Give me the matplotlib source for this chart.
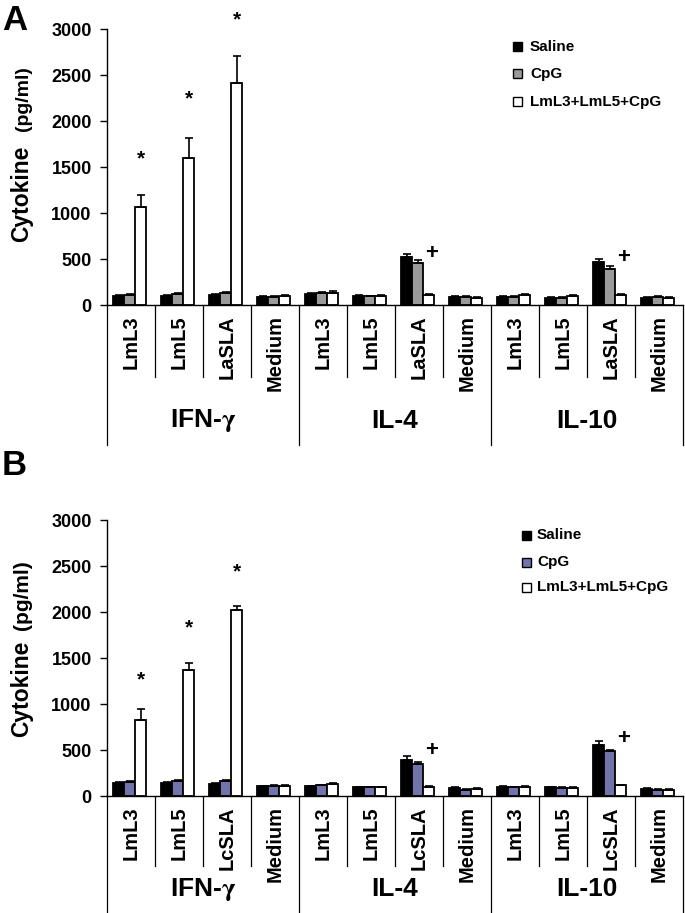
import matplotlib
matplotlib.use("Agg")
import matplotlib.pyplot as plt
from matplotlib.patches import Rectangle
import numpy as np

plt.rcParams['font.family'] = ['Liberation Sans', 'DejaVu Sans']
plt.rcParams['font.weight'] = 'bold'
plt.rcParams['mathtext.fontset'] = 'stix'

groups = ['IFN-$\\mathrm{\\gamma}$', 'IL-4', 'IL-10']
cats_A = ['LmL3', 'LmL5', 'LaSLA', 'Medium']
cats_B = ['LmL3', 'LmL5', 'LcSLA', 'Medium']
series = ['Saline', 'CpG', 'LmL3+LmL5+CpG']

A_saline = [100, 100, 110, 85, 115, 100, 520, 85, 90, 80, 465, 80]
A_cpg = [110, 120, 130, 90, 130, 95, 460, 85, 85, 80, 395, 85]
A_combo = [1065, 1595, 2415, 100, 135, 100, 110, 80, 105, 100, 105, 80]
A_err_saline = [10, 10, 10, 8, 10, 8, 35, 8, 8, 8, 40, 8]
A_err_cpg = [10, 10, 10, 8, 12, 8, 30, 8, 8, 8, 30, 8]
A_err_combo = [130, 220, 295, 8, 15, 8, 10, 8, 10, 10, 10, 8]

B_saline = [140, 145, 135, 105, 105, 95, 395, 85, 100, 95, 550, 75]
B_cpg = [150, 160, 165, 110, 115, 95, 345, 70, 95, 85, 490, 65]
B_combo = [830, 1365, 2020, 110, 130, 95, 100, 80, 100, 90, 115, 65]
B_err_saline = [15, 10, 10, 8, 8, 8, 35, 8, 8, 8, 50, 8]
B_err_cpg = [12, 12, 8, 8, 8, 8, 20, 8, 8, 8, 15, 8]
B_err_combo = [115, 80, 40, 8, 12, 8, 10, 8, 8, 8, 10, 8]

# significance marks: (category index, y value, symbol)
A_marks = [(0, 1590, '*'), (1, 2240, '*'), (2, 3100, '*'), (6, 555, '+'), (10, 515, '+')]
B_marks = [(0, 1260, '*'), (1, 1825, '*'), (2, 2435, '*'), (6, 500, '+'), (10, 630, '+')]

W, H = 685, 913
fig = plt.figure(figsize=(W / 100, H / 100), dpi=100)


def fx(px):
    return px / W


def fy(py):
    return 1 - py / H


def panel(top_px, bot_px, saline, cpg, combo, es, ec, eo, cats, marks, cpg_color,
          cat_line_px, grp_line_px, grp_label_px, letter, letter_base_px,
          legend_sq_x, legend_txt_x, legend_rows, ylab_parts):
    ax = fig.add_axes([fx(107), fy(bot_px), fx(683) - fx(107), fy(top_px) - fy(bot_px)])
    hpx = bot_px - top_px
    n = len(saline)
    x = np.arange(n) + 0.47
    w = 0.23
    colors = ['black', cpg_color, 'white']
    vals = [saline, cpg, combo]
    errs = [es, ec, eo]
    for k in range(3):
        xx = x + (k - 1) * w
        ax.bar(xx, vals[k], width=w, color=colors[k], edgecolor='black', linewidth=1.3, zorder=2)
        ax.errorbar(xx, vals[k], yerr=[np.zeros(n), errs[k]], fmt='none', ecolor='black',
                    elinewidth=1.2, capsize=3, capthick=1.2, zorder=3)
    for (ci, yv, sym) in marks:
        xs = x[ci] + w + (0.06 if sym == '+' else 0)
        ax.text(xs, yv, sym, ha='center', va='center', fontsize=16 if sym == '+' else 15,
                fontweight='bold', clip_on=False)
    ax.set_xlim(0, n)
    ax.set_ylim(0, 3000)
    ax.set_yticks(np.arange(0, 3001, 500))
    ax.tick_params(axis='y', direction='out', length=5, width=1, pad=6, labelsize=13)
    for lab in ax.get_yticklabels():
        lab.set_fontweight('bold')
    ax.set_xticks([])
    for s in ['top', 'right']:
        ax.spines[s].set_visible(False)
    ax.spines['left'].set_linewidth(1)
    ax.spines['bottom'].set_linewidth(1)
    tr = ax.get_xaxis_transform()
    for i in range(n + 1):
        if i % 4 == 0:
            yb = -grp_line_px / hpx
        else:
            yb = -cat_line_px / hpx
        ax.plot([i, i], [0, yb], color='black', lw=0.9, transform=tr, clip_on=False)
    for i in range(n):
        ax.text(i + 0.5, -10 / hpx, cats[i % 4], rotation=90, ha='center', va='top',
                fontsize=14.5, fontweight='bold', transform=tr)
    for g in range(3):
        ax.text(g * 4 + 2, -grp_label_px / hpx, groups[g], ha='center', va='center',
                fontsize=19, fontweight='bold', transform=tr)
    # panel letter
    fig.text(fx(2), fy(letter_base_px), letter, fontsize=25, fontweight='bold',
             ha='left', va='baseline')
    # legend
    for r, (lab, col) in enumerate(zip(series, colors)):
        yc = legend_rows[r]
        fig.patches.append(Rectangle((fx(legend_sq_x), fy(yc + 4.5)), fx(9), 9 / H,
                                     facecolor=col, edgecolor='black', linewidth=1,
                                     transform=fig.transFigure))
        fig.text(fx(legend_txt_x), fy(yc), lab, fontsize=11, fontweight='bold',
                 ha='left', va='center')
    # y label in two parts
    for (txt, size, yc) in ylab_parts:
        fig.text(fx(28), fy(yc), txt, rotation=90, rotation_mode='anchor',
                 ha='center', va='baseline', fontsize=size, fontweight='bold')
    return ax


panel(29, 305, A_saline, A_cpg, A_combo, A_err_saline, A_err_cpg, A_err_combo,
      cats_A, A_marks, '#9a9a9a', 72, 140, 116, 'A', 30,
      513, 530, [47, 74, 102], [('Cytokine', 16.5, 194), ('(pg/ml)', 14, 99)])
panel(520, 796, B_saline, B_cpg, B_combo, B_err_saline, B_err_cpg, B_err_combo,
      cats_B, B_marks, '#7373ab', 70, 140, 93, 'B', 475,
      522, 537, [535, 562, 587], [('Cytokine', 16.5, 689), ('(pg/ml)', 15, 595)])

fig.savefig('out.png', dpi=100)
